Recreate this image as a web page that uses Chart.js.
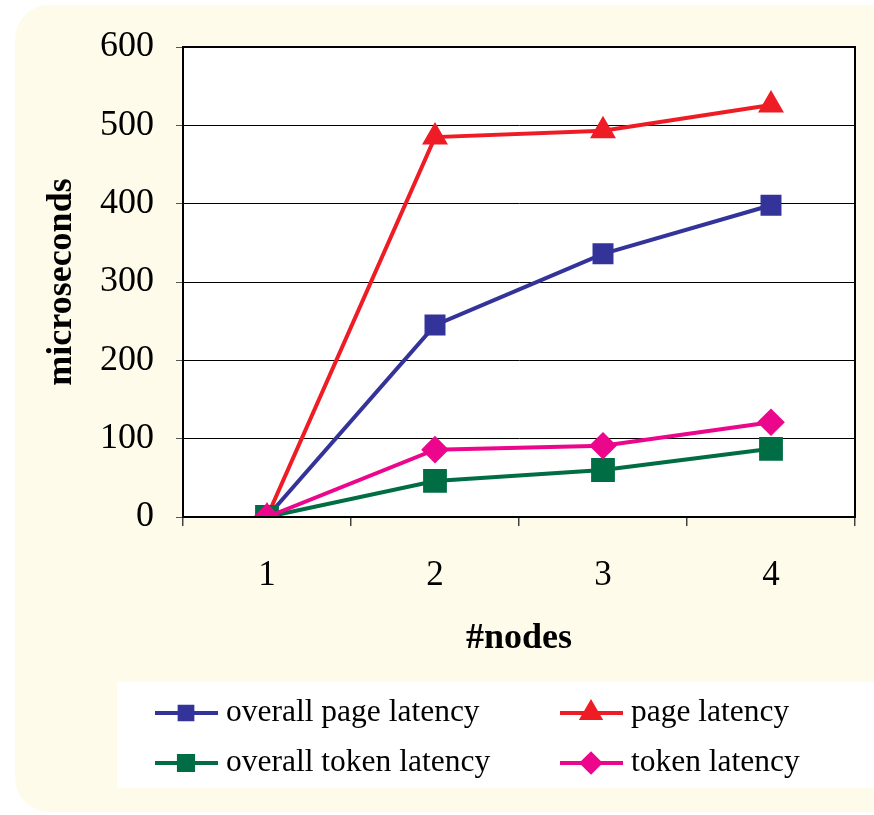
<!DOCTYPE html>
<html>
<head>
<meta charset="utf-8">
<script src="https://cdn.jsdelivr.net/npm/chart.js@4/dist/chart.umd.min.js"></script>
<style>
  html, body { margin: 0; padding: 0; background: #ffffff; }
  #wrap { width: 874px; height: 815px; position: relative; }
</style>
</head>
<body>
<div id="wrap"><canvas id="latencyChart" width="874" height="815"></canvas></div>
<script>
const nodes = ['1', '2', '3', '4'];
const overallPageLatency = [0, 245, 336, 398];
const pageLatency = [0, 485, 493, 526];
const overallTokenLatency = [0, 46, 60, 87];
const tokenLatency = [0, 86, 91, 121];
const yTicks = [0, 100, 200, 300, 400, 500, 600];

const serif = '"Liberation Serif", "Times New Roman", serif';

// cream panel behind everything
const panelPlugin = {
    id: 'panel',
    beforeDraw(chart) {
        const ctx = chart.ctx;
        ctx.save();
        ctx.fillStyle = '#fffbea';
        ctx.beginPath();
        ctx.roundRect(15, 5, 900, 807, 34);
        ctx.fill();
        const a = chart.chartArea;
        ctx.fillStyle = '#ffffff';
        ctx.fillRect(a.left, a.top, a.right - a.left, a.bottom - a.top);
        ctx.restore();
    },
    afterDatasetsDraw(chart) {
        const ctx = chart.ctx;
        const a = chart.chartArea;
        ctx.save();
        ctx.strokeStyle = '#000000';
        ctx.lineWidth = 2;
        ctx.strokeRect(a.left, a.top, a.right - a.left, a.bottom - a.top);
        ctx.restore();
    }
};

// legend in a white box, two columns
const boxLegend = {
    id: 'boxLegend',
    afterDraw(chart) {
        const ctx = chart.ctx;
        ctx.save();
        ctx.fillStyle = '#ffffff';
        ctx.fillRect(117, 682, 760, 106);
        const slots = [[155, 713], [560, 713], [155, 763], [560, 763]];
        chart.data.datasets.forEach((ds, i) => {
            const [x, y] = slots[i];
            ctx.strokeStyle = ds.borderColor;
            ctx.lineWidth = 4;
            ctx.beginPath();
            ctx.moveTo(x, y);
            ctx.lineTo(x + 63, y);
            ctx.stroke();
            ctx.fillStyle = ds.backgroundColor;
            ctx.strokeStyle = ds.backgroundColor;
            Chart.helpers.drawPoint(ctx, {
                pointStyle: ds.pointStyle,
                radius: ds.legendRadius,
                rotation: 0,
                borderWidth: 1
            }, x + 31, y);
            ctx.fillStyle = '#000000';
            ctx.font = '31.5px ' + serif;
            ctx.textBaseline = 'middle';
            ctx.fillText(ds.label, x + 71, y);
        });
        ctx.restore();
    }
};

new Chart(document.getElementById('latencyChart'), {
    type: 'line',
    data: {
        labels: nodes,
        datasets: [
            {
                label: 'overall page latency',
                data: overallPageLatency,
                borderColor: '#333399',
                backgroundColor: '#333399',
                pointStyle: 'rect',
                pointRadius: 12,
                legendRadius: 9,
                borderWidth: 4,
                order: 3
            },
            {
                label: 'page latency',
                data: pageLatency,
                borderColor: '#ee1c25',
                backgroundColor: '#ee1c25',
                pointStyle: 'triangle',
                pointRadius: 11,
                legendRadius: 10,
                borderWidth: 4,
                order: 2
            },
            {
                label: 'overall token latency',
                data: overallTokenLatency,
                borderColor: '#006d44',
                backgroundColor: '#006d44',
                pointStyle: 'rect',
                pointRadius: 14,
                legendRadius: 10,
                borderWidth: 4,
                order: 1
            },
            {
                label: 'token latency',
                data: tokenLatency,
                borderColor: '#ec068c',
                backgroundColor: '#ec068c',
                pointStyle: 'rectRot',
                pointRadius: 11,
                legendRadius: 9,
                borderWidth: 4,
                order: 0
            }
        ]
    },
    options: {
        responsive: false,
        animation: false,
        layout: { padding: { left: 0, top: 47, right: 19, bottom: 148 } },
        plugins: {
            legend: { display: false },
            tooltip: { enabled: false }
        },
        elements: { line: { tension: 0 }, point: { borderWidth: 1 } },
        scales: {
            x: {
                offset: true,
                afterFit(s) { s.height = 150; },
                grid: {
                    offset: true,
                    drawOnChartArea: false,
                    color: '#444444',
                    tickLength: 9,
                    lineWidth: 1.5
                },
                border: { color: '#000000', width: 2 },
                ticks: {
                    color: '#000000',
                    padding: 29,
                    font: { family: serif, size: 35 }
                },
                title: {
                    display: true,
                    text: '#nodes',
                    color: '#000000',
                    font: { family: serif, size: 36, weight: 'bold' },
                    padding: { top: 0, bottom: 7 }
                }
            },
            y: {
                min: 0,
                max: 600,
                afterFit(s) { s.width = 183; },
                afterBuildTicks(s) { s.ticks = yTicks.map(v => ({ value: v })); },
                grid: {
                    color: '#000000',
                    lineWidth: 1,
                    tickLength: 7,
                    tickColor: '#555555'
                },
                border: { color: '#000000', width: 2 },
                ticks: {
                    color: '#000000',
                    padding: 22,
                    font: { family: serif, size: 36 }
                },
                title: {
                    display: true,
                    text: 'microseconds',
                    color: '#000000',
                    font: { family: serif, size: 36, weight: 'bold' },
                    padding: { top: 40, bottom: 0 }
                }
            }
        }
    },
    plugins: [panelPlugin, boxLegend]
});
</script>
</body>
</html>
